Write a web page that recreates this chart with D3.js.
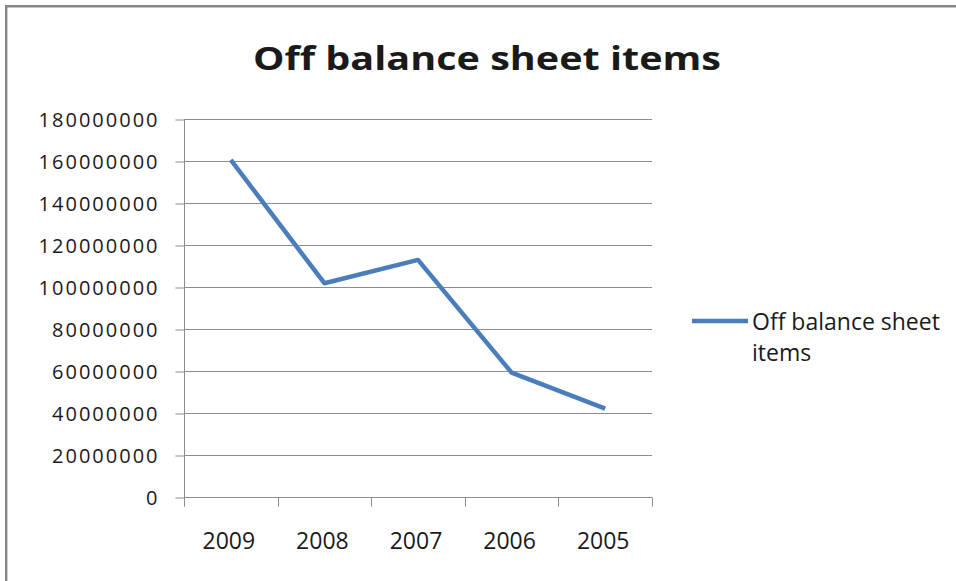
<!DOCTYPE html>
<html>
<head>
<meta charset="utf-8">
<script src="https://cdn.jsdelivr.net/npm/d3@7"></script>
<style>
  html, body { margin: 0; padding: 0; background: #fff; }
  svg { display: block; }
  text { font-family: "Open Sans", "Noto Sans", sans-serif; fill: #1a1a1a; }
</style>
</head>
<body>
<svg id="chart" width="956" height="581"></svg>
<script>
// Off balance sheet items by year
const years = ["2009", "2008", "2007", "2006", "2005"];
const values = [160500000, 101800000, 112900000, 59200000, 42100000];
const yTicks = [0, 20000000, 40000000, 60000000, 80000000, 100000000,
                120000000, 140000000, 160000000, 180000000];
const seriesName = "Off balance sheet items";
const titleText = "Off balance sheet items";

const svg = d3.select("#chart");
const W = 956, H = 581;
const plot = { left: 184, right: 652, top: 119, bottom: 497 };
const gridColor = "#8c8c8c";
const lineColor = "#4a7ebb";

svg.append("rect").attr("width", W).attr("height", H).attr("fill", "#fff");

// outer frame (top and left edges visible)
svg.append("path")
  .attr("d", `M6.2,${H} V6.2 H${W}`)
  .attr("fill", "none")
  .attr("stroke", "#878787")
  .attr("stroke-width", 2.4);

const x = d3.scaleBand().domain(years).range([plot.left, plot.right]).padding(0);
const y = d3.scaleLinear().domain([0, 180000000]).range([plot.bottom, plot.top]);

// horizontal gridlines
svg.append("g").selectAll("line").data(yTicks.filter(d => d > 0)).join("line")
  .attr("x1", plot.left).attr("x2", plot.right)
  .attr("y1", d => Math.round(y(d)) + 0.5).attr("y2", d => Math.round(y(d)) + 0.5)
  .attr("stroke", gridColor).attr("stroke-width", 1);

// y axis
const yAxis = svg.append("g")
  .attr("transform", `translate(${plot.left + 0.5},0.5)`)
  .call(d3.axisLeft(y).tickValues(yTicks).tickSize(9).tickPadding(16)
    .tickFormat(d3.format("d")));
yAxis.select(".domain").attr("d", `M0,${plot.top}V${plot.bottom + 9}`).attr("stroke", gridColor);
yAxis.selectAll(".tick line").attr("stroke", gridColor);
yAxis.selectAll(".tick text")
  .style("font-size", "20px").style("letter-spacing", "2px")
  .attr("fill", "#1a1a1a").attr("dy", "0.36em");

// x axis: labels centred in each category, ticks on category boundaries
const xAxis = svg.append("g")
  .attr("transform", `translate(0,${plot.bottom + 0.5})`)
  .call(d3.axisBottom(x).tickSize(0).tickPadding(35));
xAxis.select(".domain").attr("d", `M${plot.left},0H${plot.right}`).attr("stroke", gridColor);
xAxis.selectAll(".tick text").style("font-size", "23px").attr("fill", "#1a1a1a")
  .attr("dx", "-2");
const edges = years.map(d => x(d)).concat([x(years[years.length - 1]) + x.bandwidth()]);
xAxis.append("g").selectAll("line").data(edges).join("line")
  .attr("x1", d => Math.round(d) + 0.5).attr("x2", d => Math.round(d) + 0.5)
  .attr("y1", 0).attr("y2", 9)
  .attr("stroke", gridColor);

// series line
const line = d3.line()
  .x((d, i) => x(years[i]) + x.bandwidth() / 2)
  .y(d => y(d));
svg.append("path")
  .datum(values)
  .attr("d", line)
  .attr("fill", "none")
  .attr("stroke", lineColor)
  .attr("stroke-width", 4.5)
  .attr("stroke-linejoin", "round");

// title, stretched to its full width
svg.append("text")
  .attr("x", 487).attr("y", 70)
  .attr("text-anchor", "middle")
  .attr("textLength", 468)
  .attr("lengthAdjust", "spacingAndGlyphs")
  .style("font-size", "33px").style("font-weight", "700")
  .attr("fill", "#000")
  .text(titleText);

// legend
const lg = svg.append("g").attr("transform", "translate(692,321)");
lg.append("line").attr("x1", 0).attr("x2", 56).attr("y1", 0).attr("y2", 0)
  .attr("stroke", lineColor).attr("stroke-width", 4.5);
const words = seriesName.split(" ");
lg.append("text").attr("x", 60).attr("y", 9)
  .style("font-size", "23px")
  .text(words.slice(0, 3).join(" "));
lg.append("text").attr("x", 60).attr("y", 40)
  .style("font-size", "23px")
  .text(words.slice(3).join(" "));
</script>
</body>
</html>
